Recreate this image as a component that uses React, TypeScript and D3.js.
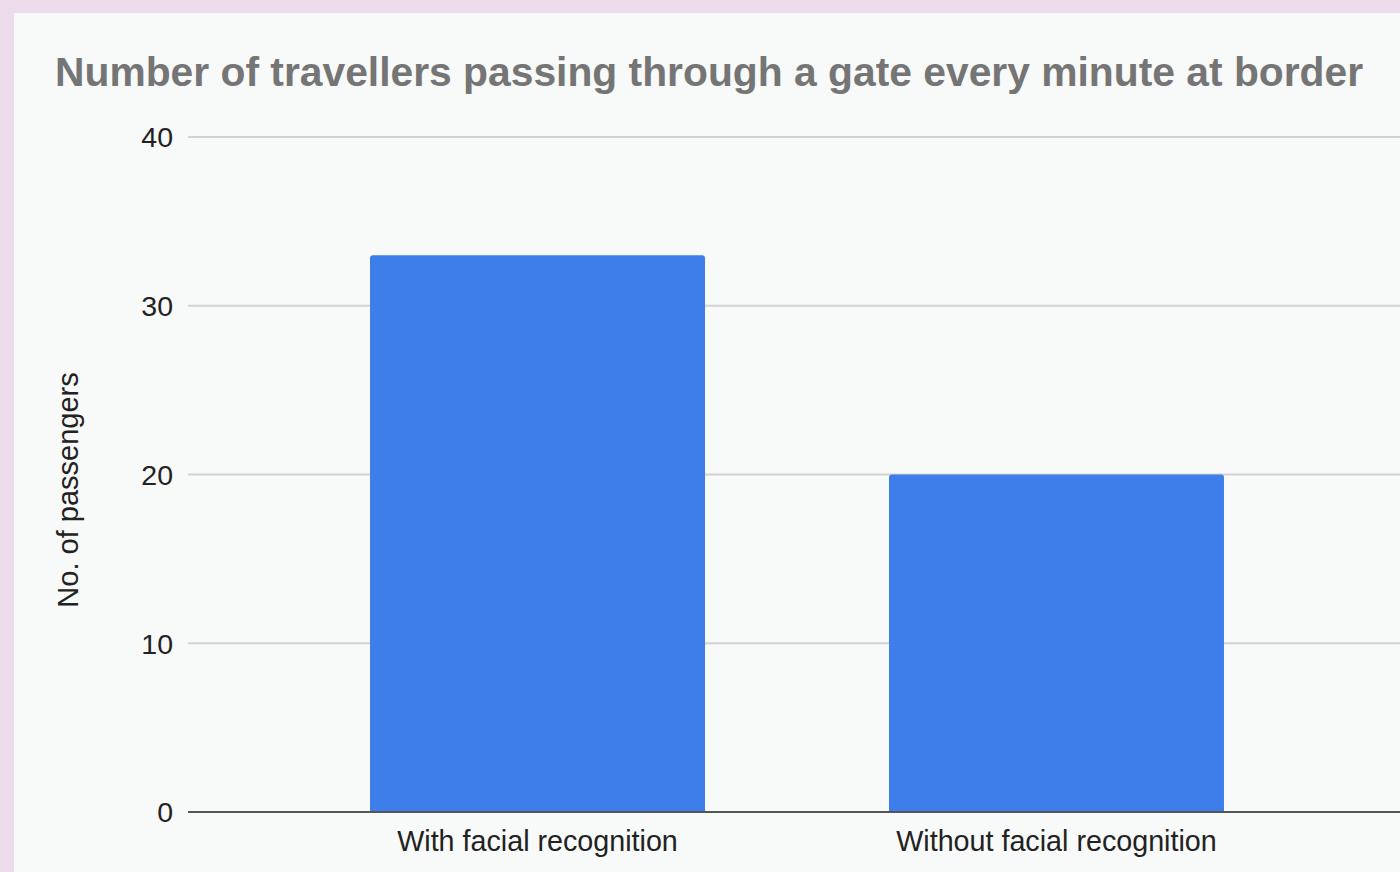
import React, { useEffect, useRef } from "react";
import * as d3 from "d3";

const categories = ["With facial recognition", "Without facial recognition"];
const passengers = [33, 20];
const yTicks = [0, 10, 20, 30, 40];
const titleText = "Number of travellers passing through a gate every minute at border";
const yAxisTitle = "No. of passengers";

const W = 1400;
const H = 872;

export default function App() {
  const ref = useRef<SVGSVGElement | null>(null);

  useEffect(() => {
    document.body.style.margin = "0";
    const svg = d3.select(ref.current);
    svg.selectAll("*").remove();

    const font = "'Liberation Sans', Arial, Helvetica, sans-serif";

    // page background and chart card
    svg.append("rect").attr("width", W).attr("height", H).attr("fill", "#ecdcec");
    svg.append("rect").attr("x", 14).attr("y", 13).attr("width", W).attr("height", H).attr("fill", "#f8f9f9");

    const y = d3.scaleLinear().domain([0, 40]).range([812, 137]);
    const x = d3
      .scaleBand<string>()
      .domain(categories)
      .range([278, 1316])
      .paddingInner(0.3545)
      .paddingOuter(0.1773);

    const gridLeft = 188;

    // gridlines
    svg
      .append("g")
      .selectAll("line")
      .data(yTicks.filter((t) => t !== 0))
      .join("line")
      .attr("x1", gridLeft)
      .attr("x2", W)
      .attr("y1", (d) => y(d))
      .attr("y2", (d) => y(d))
      .attr("stroke", "#d2d2d2")
      .attr("stroke-width", 2);

    // tick labels
    svg
      .append("g")
      .selectAll("text")
      .data(yTicks)
      .join("text")
      .attr("x", 173)
      .attr("y", (d) => y(d))
      .attr("dy", "0.36em")
      .attr("text-anchor", "end")
      .attr("font-family", font)
      .attr("font-size", 28.5)
      .attr("fill", "#222")
      .text((d) => String(d));

    // bars
    svg
      .append("g")
      .selectAll("path")
      .data(categories.map((c, i) => ({ c, v: passengers[i] })))
      .join("path")
      .attr("d", (d) => {
        const x0 = x(d.c)!;
        const w = x.bandwidth();
        const top = y(d.v);
        const bottom = y(0);
        const r = 3;
        return `M${x0},${bottom}V${top + r}Q${x0},${top} ${x0 + r},${top}H${x0 + w - r}Q${x0 + w},${top} ${x0 + w},${top + r}V${bottom}Z`;
      })
      .attr("fill", "#3d7eea");

    // baseline
    svg
      .append("line")
      .attr("x1", gridLeft)
      .attr("x2", W)
      .attr("y1", y(0))
      .attr("y2", y(0))
      .attr("stroke", "#555")
      .attr("stroke-width", 2);

    // category labels
    svg
      .append("g")
      .selectAll("text")
      .data(categories)
      .join("text")
      .attr("x", (d) => x(d)! + x.bandwidth() / 2)
      .attr("y", 851)
      .attr("text-anchor", "middle")
      .attr("font-family", font)
      .attr("font-size", 28.7)
      .attr("fill", "#222")
      .text((d) => d);

    // y axis title
    svg
      .append("text")
      .attr("transform", `translate(78,490) rotate(-90)`)
      .attr("text-anchor", "middle")
      .attr("font-family", font)
      .attr("font-size", 29)
      .attr("fill", "#222")
      .text(yAxisTitle);

    // chart title
    svg
      .append("text")
      .attr("x", 55)
      .attr("y", 86)
      .attr("font-family", font)
      .attr("font-size", 40.8)
      .attr("font-weight", "bold")
      .attr("fill", "#757575")
      .text(titleText);
  }, []);

  return <svg ref={ref} width={W} height={H} style={{ display: "block" }} />;
}
